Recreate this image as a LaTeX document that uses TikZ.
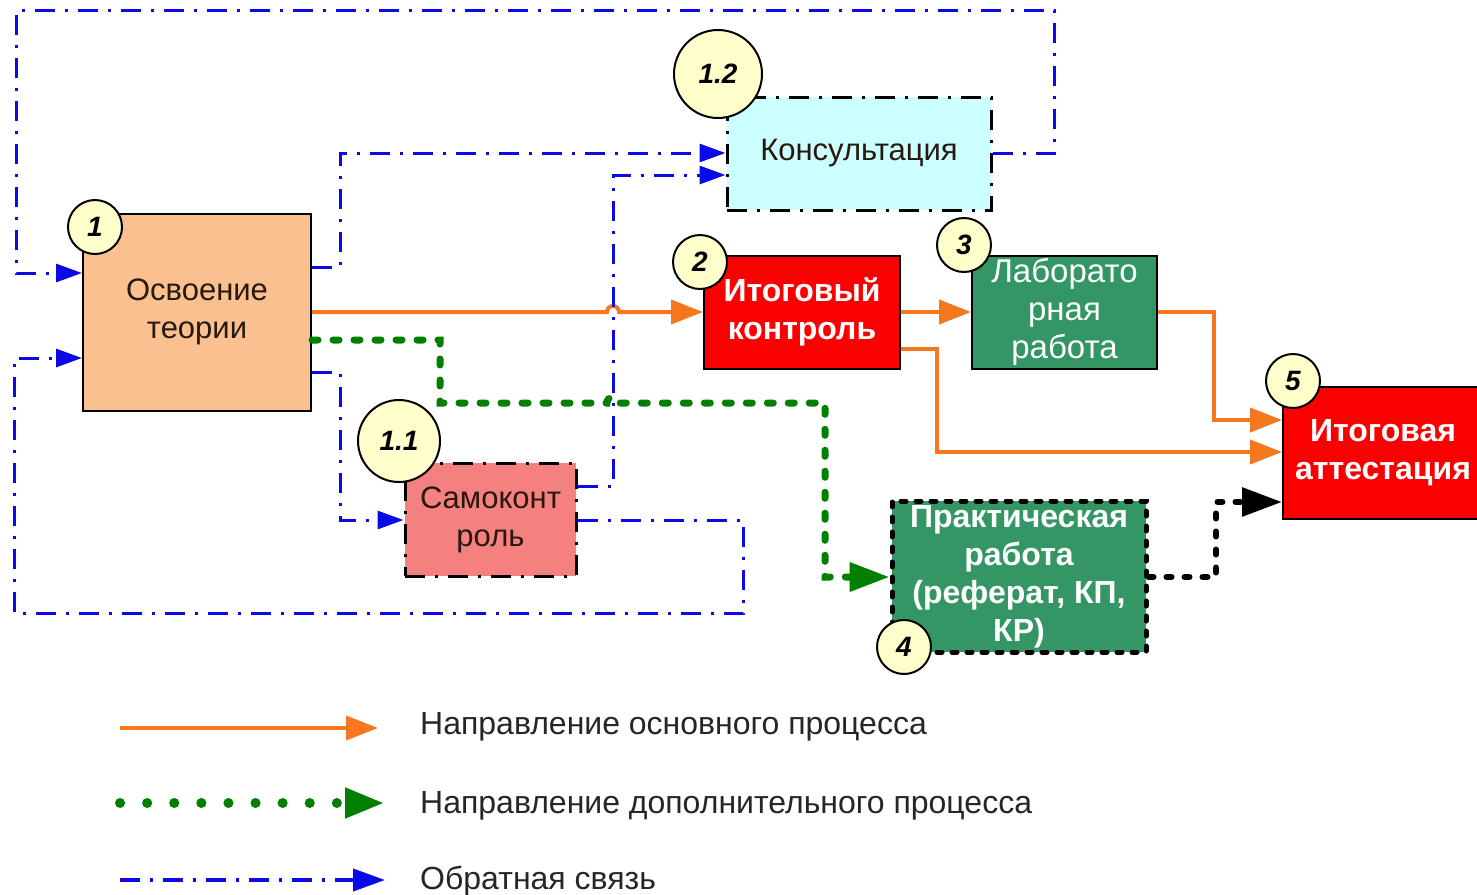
\documentclass[tikz,border=0pt]{standalone}
\usepackage{fontspec}
\setmainfont{Liberation Sans}
\usetikzlibrary{arrows.meta}
\definecolor{peach}{RGB}{250,192,144}
\definecolor{skyfill}{RGB}{204,255,255}
\definecolor{redfill}{RGB}{250,0,0}
\definecolor{greenfill}{RGB}{51,150,100}
\definecolor{pinkfill}{RGB}{244,128,128}
\definecolor{numfill}{RGB}{255,255,204}
\definecolor{mainorange}{RGB}{245,120,30}
\definecolor{addgreen}{RGB}{0,128,0}
\definecolor{fbblue}{RGB}{10,10,230}
\definecolor{darktext}{RGB}{40,25,15}
\tikzset{
	blk/.style={rectangle,draw=black,line width=2pt,inner sep=0pt,align=center,font=\fontsize{31}{38}\selectfont},
	boldblk/.style={blk,text=white,font=\fontsize{32}{38}\selectfont\bfseries},
	dashdotbox/.style={line width=3pt,dash pattern=on 20pt off 10pt on 3pt off 10pt},
	numc/.style={circle,draw=black,fill=numfill,line width=2pt,inner sep=0pt,font=\fontsize{28}{28}\selectfont\bfseries\itshape},
	mainflow/.style={draw=mainorange,line width=4pt,-{Triangle[length=32pt,width=24pt]}},
	addflow/.style={draw=addgreen,line width=7pt,line cap=round,dash pattern=on 6pt off 15pt,-{Triangle[length=40pt,width=28pt]}},
	extflow/.style={draw=black,line width=6pt,line cap=round,dash pattern=on 5pt off 13pt,-{Triangle[length=40pt,width=28pt]}},
	fbflow/.style={draw=fbblue,line width=3pt,dash pattern=on 20pt off 10pt on 3pt off 10pt,-{Triangle[length=26pt,width=18pt]}},
	legtext/.style={anchor=base west,inner sep=0pt,text=black!85,font=\fontsize{32}{32}\selectfont}
}
\begin{document}
\begin{tikzpicture}[x=1pt,y=-1pt]
	\useasboundingbox (0,0) rectangle (1477,894);
	\node[blk,fill=peach,text=darktext,minimum width=228pt,minimum height=197pt] (b1) at (197,312) {Освоение\\теории};
	\node[blk,dashdotbox,fill=skyfill,text=darktext,minimum width=264pt,minimum height=113pt] (kons) at (859,153.5) {Консультация};
	\node[blk,dashdotbox,fill=pinkfill,text=darktext,minimum width=171pt,minimum height=113pt] (b11) at (490.5,519.5) {Самоконт\\роль};
	\node[boldblk,fill=redfill,minimum width=196pt,minimum height=113pt] (b2) at (802,312) {Итоговый\\контроль};
	\node[blk,fill=greenfill,text=white,font=\fontsize{33}{38}\selectfont,minimum width=185pt,minimum height=113pt] (b3) at (1064.5,312) {Лаборато\\рная\\работа};
	\node[boldblk,fill=redfill,minimum width=200pt,minimum height=132pt] (b5) at (1383,453) {Итоговая\\аттестация};
	\node[boldblk,fill=greenfill,line width=5pt,line cap=round,dash pattern=on 5pt off 10pt,minimum width=254pt,minimum height=151pt] (b4) at (1019,576.5) {Практическая\\работа\\(реферат, КП,\\КР)};

	\draw[mainflow] (b1.east) -- (607,312) arc[start angle=180,end angle=360,radius=6] -- (b2.west);
	\draw[mainflow] (b2.east) -- (b3.west);
	\draw[mainflow] (b2.east |- 0,349) -| (937,452) -- (b5.west |- 0,452);
	\draw[mainflow] (b3.east) -| (1214,420) -- (b5.west |- 0,420);
	\draw[addflow] (b1.east |- 0,340) -| (440,403) -- (607,403) arc[start angle=180,end angle=360,radius=6] -- (825,403) -- (825,577) -- (b4.west |- 0,577);
	\draw[extflow] (b4.east |- 0,577) -| (1216,502) -- (b5.west |- 0,502);
	\draw[fbflow] (b1.east |- 0,267) -| (340,153) -- (kons.west |- 0,153);
	\draw[fbflow] (b1.east |- 0,372) -| (340,520) -- (b11.west |- 0,520);
	\draw[fbflow] (b11.east |- 0,486) -| (613,175) -- (kons.west |- 0,175);
	\draw[fbflow] (b11.east |- 0,520) -| (743,613) -| (14,358) -- (b1.west |- 0,358);
	\draw[fbflow] (kons.east |- 0,153) -| (1054,10) -| (16,273) -- (b1.west |- 0,273);

	\node[numc,minimum size=54pt] (n1) at (95,227) {1};
	\node[numc,minimum size=88pt] (n12) at (718,74) {1.2};
	\node[numc,minimum size=82pt] (n11) at (399,441) {1.1};
	\node[numc,minimum size=54pt] (n2) at (700,262) {2};
	\node[numc,minimum size=54pt] (n3) at (964,245) {3};
	\node[numc,minimum size=54pt] (n5) at (1293,381) {5};
	\node[numc,minimum size=54pt] (n4) at (904,647) {4};

	\coordinate (la) at (120,728);
	\coordinate (lb) at (378,728);
	\coordinate (lc) at (120,803);
	\coordinate (ld) at (385,803);
	\coordinate (le) at (120,880);
	\coordinate (lf) at (385,880);
	\draw[mainflow] (la) -- (lb);
	\draw[addflow,line width=10pt,dash pattern=on 0.1pt off 27pt] (lc) -- (ld);
	\draw[fbflow,line width=4pt,-{Triangle[length=32pt,width=22pt]}] (le) -- (lf);
	\node[legtext] (t1) at (420,734) {Направление основного процесса};
	\node[legtext] (t2) at (420,813) {Направление дополнительного процесса};
	\node[legtext] (t3) at (420,889) {Обратная связь};
\end{tikzpicture}
\end{document}
